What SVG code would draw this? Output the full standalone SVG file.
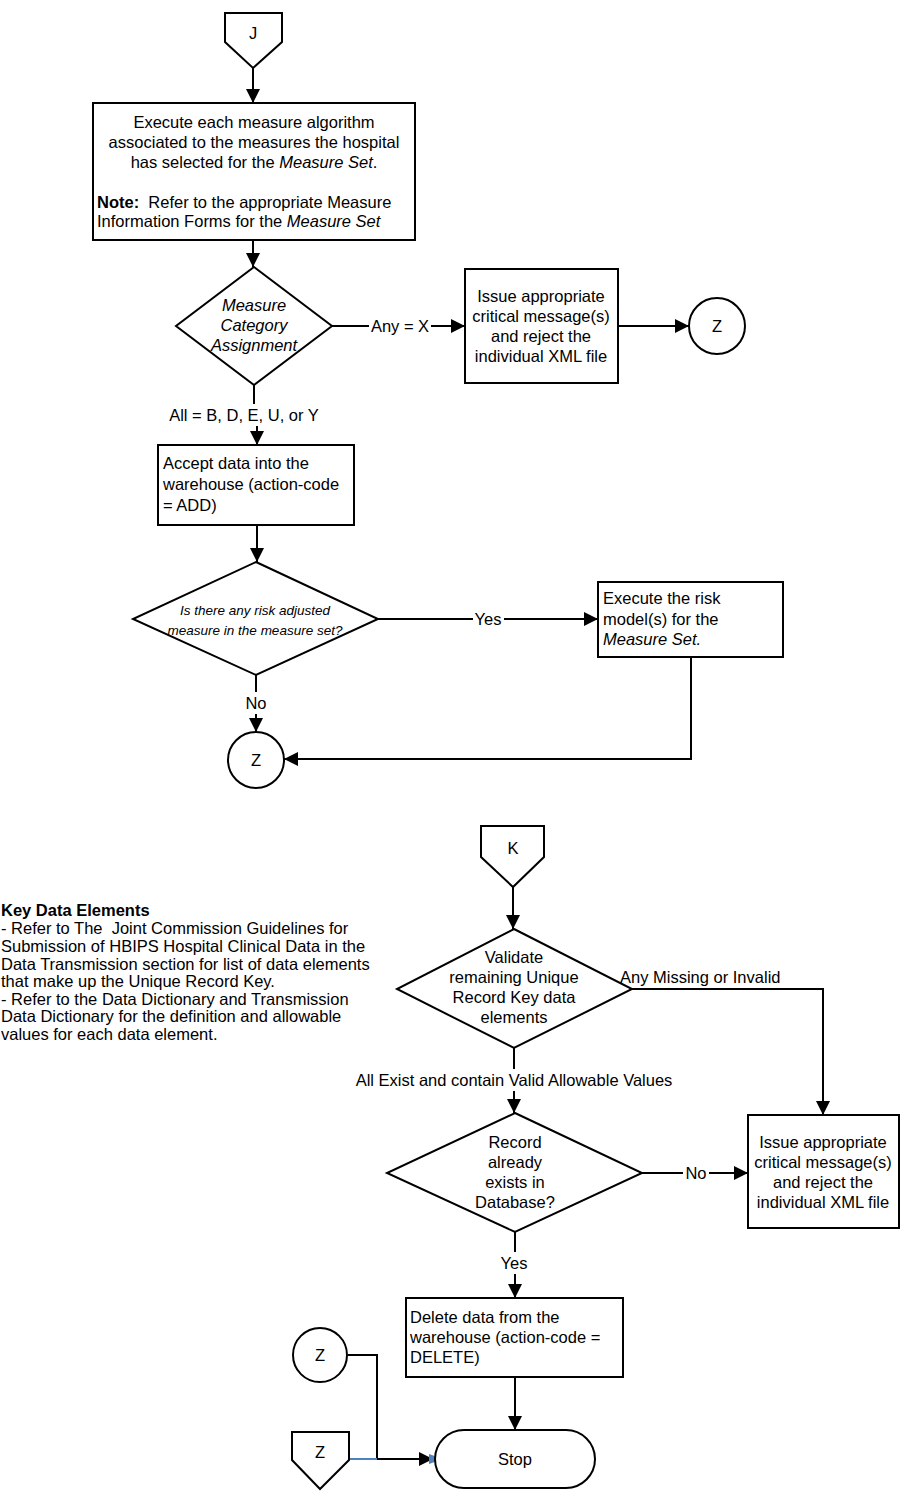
<svg xmlns="http://www.w3.org/2000/svg" width="901" height="1501" viewBox="0 0 901 1501">
<style>
.s{fill:#fff;stroke:#000;stroke-width:2}
.t{font-family:"Liberation Sans",Arial,sans-serif;font-size:16.5px;fill:#000}
.c{text-anchor:middle}
.i{font-style:italic}
.k{font-family:"Liberation Sans",Arial,sans-serif;font-size:16.5px;fill:#000}
.ln{fill:none;stroke:#000;stroke-width:2}
.bg{fill:#fff}
</style>
<defs>
<marker id="a" viewBox="0 0 14 14" refX="14" refY="7" markerWidth="14" markerHeight="14" markerUnits="userSpaceOnUse" orient="auto">
<path d="M0,0 L14,7 L0,14 z" fill="#000"/>
</marker>
</defs>
<rect width="901" height="1501" fill="#fff"/>
<g id="connectors">
<path class="ln" d="M253,68 V103" marker-end="url(#a)"/>
<path class="ln" d="M253,240 V267" marker-end="url(#a)"/>
<path class="ln" d="M332,326 H465" marker-end="url(#a)"/>
<rect class="bg" x="369" y="315" width="62" height="22"/>
<text class="t c" x="400" y="332">Any = X</text>
<path class="ln" d="M618,326 H689" marker-end="url(#a)"/>
<path class="ln" d="M254,385 V414 H257 V445" marker-end="url(#a)"/>
<rect class="bg" x="166" y="404" width="156" height="22"/>
<text class="t c" x="244" y="421">All = B, D, E, U, or Y</text>
<path class="ln" d="M257,525 V562" marker-end="url(#a)"/>
<path class="ln" d="M378,619 H598" marker-end="url(#a)"/>
<rect class="bg" x="473" y="608" width="31" height="22"/>
<text class="t c" x="488" y="625">Yes</text>
<path class="ln" d="M256,675 V732" marker-end="url(#a)"/>
<rect class="bg" x="243" y="692" width="26" height="22"/>
<text class="t c" x="256" y="709">No</text>
<path class="ln" d="M691,657 V759 H284" marker-end="url(#a)"/>
<path class="ln" d="M513,887 V929" marker-end="url(#a)"/>
<path class="ln" d="M632,989 H823 V1115" marker-end="url(#a)"/>
<text class="t" x="620" y="983">Any Missing or Invalid</text>
<path class="ln" d="M514,1048 V1113" marker-end="url(#a)"/>
<rect class="bg" x="352" y="1069" width="324" height="22"/>
<text class="t c" x="514" y="1086">All Exist and contain Valid Allowable Values</text>
<path class="ln" d="M642,1173 H748" marker-end="url(#a)"/>
<rect class="bg" x="683" y="1162" width="26" height="22"/>
<text class="t c" x="696" y="1179">No</text>
<path class="ln" d="M515,1232 V1298" marker-end="url(#a)"/>
<rect class="bg" x="499" y="1252" width="31" height="22"/>
<text class="t c" x="514" y="1269">Yes</text>
<path class="ln" d="M515,1377 V1430" marker-end="url(#a)"/>
<path class="ln" d="M348,1355 H377 V1459 H433" marker-end="url(#a)"/>
<path d="M349,1459 H377" fill="none" stroke="#4f81bd" stroke-width="2"/>
<polygon points="429,1454 443,1459 429,1464" fill="#4f81bd"/>
</g>
<g id="J">
<polygon class="s" points="225,13 282,13 282,42 253,68 225,42"/>
<text class="t c" x="253" y="39">J</text>
</g>
<g id="execute-measures">
<rect class="s" x="93" y="103" width="322" height="137"/>
<text class="t c" x="254" y="128">Execute each measure algorithm</text>
<text class="t c" x="254" y="148">associated to the measures the hospital</text>
<text class="t c" x="254" y="168">has selected for the <tspan class="i">Measure Set</tspan>.</text>
<text class="t" x="97" y="208" xml:space="preserve"><tspan font-weight="bold">Note:</tspan>  Refer to the appropriate Measure</text>
<text class="t" x="97" y="227">Information Forms for the <tspan class="i">Measure Set</tspan></text>
</g>
<g id="measure-category">
<polygon class="s" points="254,267 332,326 254,385 176,326"/>
<text class="t c i" x="254" y="311">Measure</text>
<text class="t c i" x="254" y="331">Category</text>
<text class="t c i" x="254" y="351">Assignment</text>
</g>
<g id="issue-1">
<rect class="s" x="465" y="269" width="153" height="114"/>
<text class="t c" x="541" y="302">Issue appropriate</text>
<text class="t c" x="541" y="322">critical message(s)</text>
<text class="t c" x="541" y="342">and reject the</text>
<text class="t c" x="541" y="362">individual XML file</text>
</g>
<g id="z-1">
<circle class="s" cx="717" cy="326" r="28"/>
<text class="t c" x="717" y="332">Z</text>
</g>
<g id="accept">
<rect class="s" x="158" y="445" width="196" height="80"/>
<text class="t" x="163" y="469">Accept data into the</text>
<text class="t" x="163" y="490">warehouse (action-code</text>
<text class="t" x="163" y="511">= ADD)</text>
</g>
<g id="risk-decision">
<polygon class="s" points="256,562 378,619 256,675 133,619"/>
<text class="t c i" x="255" y="615" style="font-size:13.5px">Is there any risk adjusted</text>
<text class="t c i" x="255" y="635" style="font-size:13.5px">measure in the measure set?</text>
</g>
<g id="risk-model">
<rect class="s" x="598" y="582" width="185" height="75"/>
<text class="t" x="603" y="604">Execute the risk</text>
<text class="t" x="603" y="625">model(s) for the</text>
<text class="t i" x="603" y="645">Measure Set.</text>
</g>
<g id="z-2">
<circle class="s" cx="256" cy="760" r="28"/>
<text class="t c" x="256" y="766">Z</text>
</g>
<g id="K">
<polygon class="s" points="481,826 544,826 544,857 513,887 481,857"/>
<text class="t c" x="513" y="854">K</text>
</g>
<g id="key-data-note">
<text class="k" x="1" y="916" font-weight="bold">Key Data Elements</text>
<text class="k" x="1" y="934" xml:space="preserve">- Refer to The  Joint Commission Guidelines for</text>
<text class="k" x="1" y="952">Submission of HBIPS Hospital Clinical Data in the</text>
<text class="k" x="1" y="970">Data Transmission section for list of data elements</text>
<text class="k" x="1" y="987">that make up the Unique Record Key.</text>
<text class="k" x="1" y="1005">- Refer to the Data Dictionary and Transmission</text>
<text class="k" x="1" y="1022">Data Dictionary for the definition and allowable</text>
<text class="k" x="1" y="1040">values for each data element.</text>
</g>
<g id="validate">
<polygon class="s" points="514,929 632,989 514,1048 397,989"/>
<text class="t c" x="514" y="963">Validate</text>
<text class="t c" x="514" y="983">remaining Unique</text>
<text class="t c" x="514" y="1003">Record Key data</text>
<text class="t c" x="514" y="1023">elements</text>
</g>
<g id="record-exists">
<polygon class="s" points="515,1113 642,1173 515,1232 387,1173"/>
<text class="t c" x="515" y="1148">Record</text>
<text class="t c" x="515" y="1168">already</text>
<text class="t c" x="515" y="1188">exists in</text>
<text class="t c" x="515" y="1208">Database?</text>
</g>
<g id="issue-2">
<rect class="s" x="748" y="1115" width="151" height="113"/>
<text class="t c" x="823" y="1148">Issue appropriate</text>
<text class="t c" x="823" y="1168">critical message(s)</text>
<text class="t c" x="823" y="1188">and reject the</text>
<text class="t c" x="823" y="1208">individual XML file</text>
</g>
<g id="delete">
<rect class="s" x="406" y="1298" width="217" height="79"/>
<text class="t" x="410" y="1323">Delete data from the</text>
<text class="t" x="410" y="1343">warehouse (action-code =</text>
<text class="t" x="410" y="1363">DELETE)</text>
</g>
<g id="z-3">
<circle class="s" cx="320" cy="1355" r="27"/>
<text class="t c" x="320" y="1361">Z</text>
</g>
<g id="z-offpage">
<polygon class="s" points="292,1432 349,1432 349,1460 320,1489 292,1460"/>
<text class="t c" x="320" y="1458">Z</text>
</g>
<g id="stop">
<rect class="s" x="435" y="1430" width="160" height="58" rx="29" ry="29"/>
<text class="t c" x="515" y="1465">Stop</text>
</g>
</svg>
